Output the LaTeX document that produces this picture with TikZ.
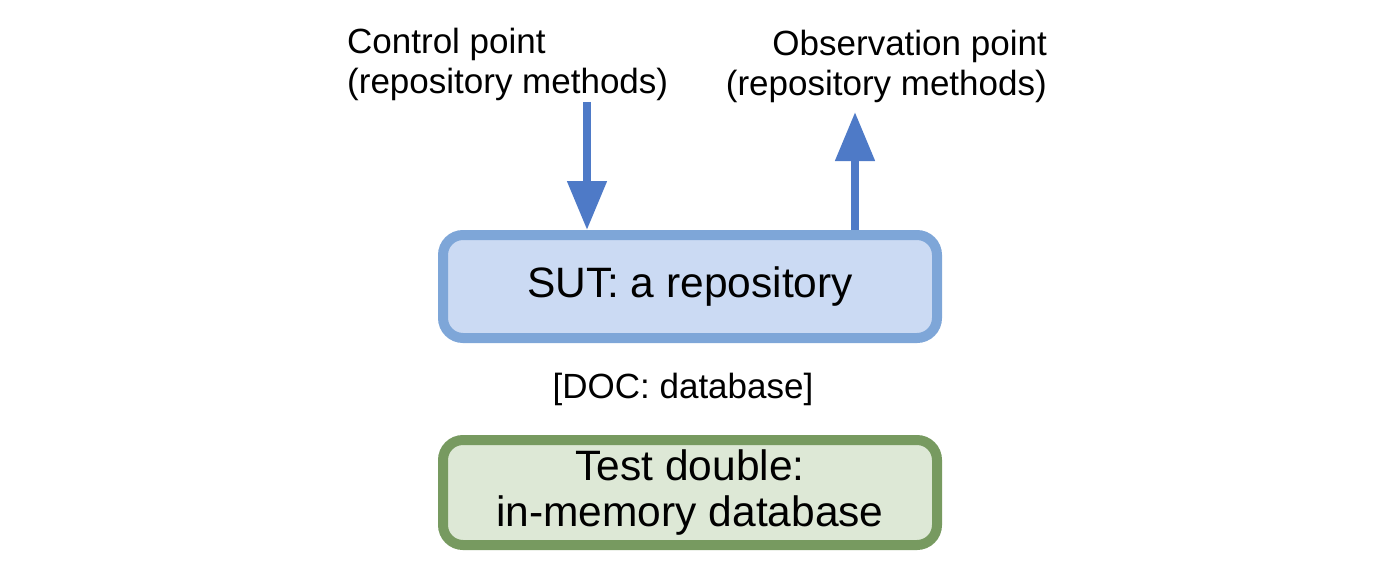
\documentclass[tikz,border=0pt]{standalone}
\usepackage{fontspec}
\setmainfont{Liberation Sans}
\usetikzlibrary{arrows.meta}
\definecolor{sutfill}{HTML}{CBDAF3}
\definecolor{sutdraw}{HTML}{7EA6D8}
\definecolor{tdfill}{HTML}{DDE8D6}
\definecolor{tddraw}{HTML}{779A60}
\definecolor{arrowblue}{HTML}{4E7AC7}
\tikzset{
  boxbase/.style={rounded corners=20pt, line width=10pt, minimum width=494pt, inner sep=0pt, align=center, font=\fontsize{42.5}{46}\selectfont},
  sutbox/.style={boxbase, draw=sutdraw, fill=sutfill, minimum height=103pt},
  tdbox/.style={boxbase, draw=tddraw, fill=tdfill, minimum height=105pt},
  lbl/.style={inner sep=0pt, font=\fontsize{35}{40}\selectfont},
  bigarrow/.style={draw=arrowblue, line width=8pt, -{Triangle[length=49pt,width=38pt]}}
}
\begin{document}
\begin{tikzpicture}[x=1pt,y=-1pt]
\useasboundingbox (0,0) rectangle (1400,567);
\node[sutbox] (sut) at (690,286.5) {SUT: a repository};
\node[tdbox] (td) at (690,492.5) {Test double:\\in-memory database};
\node[lbl, anchor=base] (doc) at (683,398) {[DOC: database]};
\node[lbl, align=left, anchor=north west] (ctrl) at (347,27.5) {Control point\\(repository methods)};
\node[lbl, align=right, anchor=north east] (obs) at (1047,29.5) {Observation point\\(repository methods)};
\coordinate (ctrlstart) at (587,102);
\coordinate (obsend) at (855,112);
\draw[bigarrow] (ctrlstart) -- (ctrlstart |- sut.north);
\draw[bigarrow] (obsend |- sut.north) -- (obsend);
\end{tikzpicture}
\end{document}
